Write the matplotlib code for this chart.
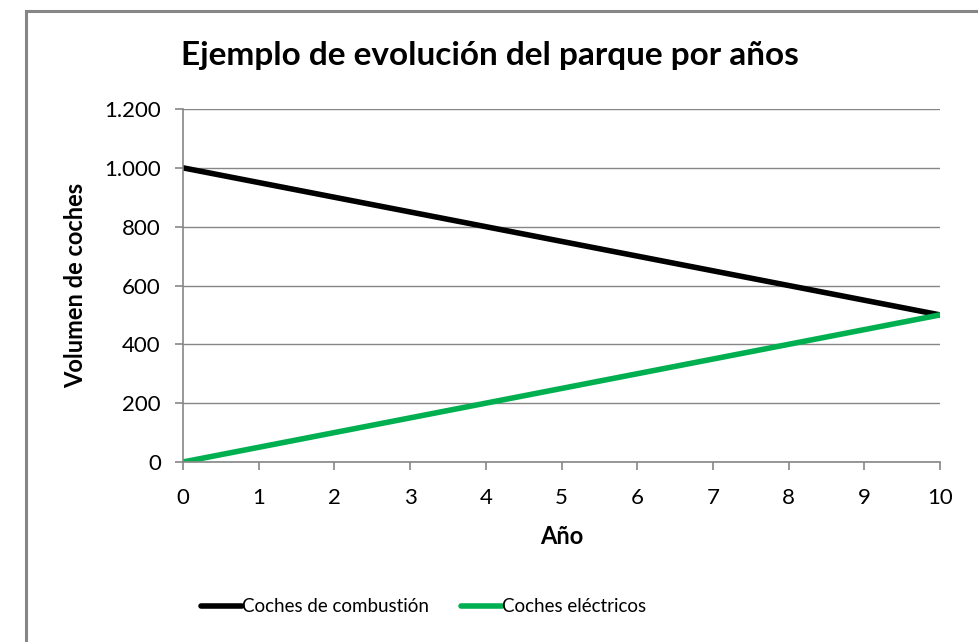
import numpy as np
import matplotlib
matplotlib.use("Agg")
import matplotlib.pyplot as plt
from matplotlib.patches import Rectangle

anios = [0, 1, 2, 3, 4, 5, 6, 7, 8, 9, 10]
combustion = [1000, 950, 900, 850, 800, 750, 700, 650, 600, 550, 500]
electricos = [0, 50, 100, 150, 200, 250, 300, 350, 400, 450, 500]
y_ticks = [0, 200, 400, 600, 800, 1000, 1200]
y_labels = ["0", "200", "400", "600", "800", "1.000", "1.200"]

plt.rcParams['font.family'] = ['Lato', 'DejaVu Sans']

fig = plt.figure(figsize=(9.79, 6.42), dpi=100)
# marco gris del area del grafico
fig.patches.append(Rectangle((26 / 979, -0.05), 1.1, 1 - 11 / 642 + 0.05,
                             transform=fig.transFigure, fill=False,
                             edgecolor='#868686', linewidth=2.2))

ax = fig.add_axes([183 / 979, 180 / 642, 757 / 979, 353 / 642])
ax.plot(anios, combustion, color='black', linewidth=4, label="Coches de combustión",
        solid_capstyle='round')
ax.plot(anios, electricos, color='#00B050', linewidth=4, label="Coches eléctricos",
        solid_capstyle='round')

ax.set_xlim(0, 10)
ax.set_ylim(0, 1200)
ax.set_xticks(anios)
ax.set_yticks(y_ticks)
ax.set_yticklabels(y_labels)
ax.grid(axis='y', color='#868686', linewidth=1)
ax.set_axisbelow(True)
for s in ['top', 'right']:
    ax.spines[s].set_visible(False)
for s in ['left', 'bottom']:
    ax.spines[s].set_color('#868686')
    ax.spines[s].set_linewidth(1.2)
ax.tick_params(axis='both', colors='#868686', labelcolor='black', labelsize=16,
               length=6, width=1.2)
ax.tick_params(axis='x', pad=13)
ax.tick_params(axis='y', pad=10)

ax.set_xlabel("Año", fontsize=17, fontweight='bold', labelpad=12)
ax.set_ylabel("Volumen de coches", fontsize=17, fontweight='bold', labelpad=12)
fig.text(490 / 979, 1 - 55 / 642, "Ejemplo de evolución del parque por años",
         ha='center', va='center', fontsize=24, fontweight='bold')

ax.legend(loc='center', bbox_to_anchor=(0.318, -0.41), ncol=2, frameon=False,
          fontsize=13.5, handlelength=2.2, handletextpad=0.0, columnspacing=1.7)

fig.savefig("out.png", dpi=100)
